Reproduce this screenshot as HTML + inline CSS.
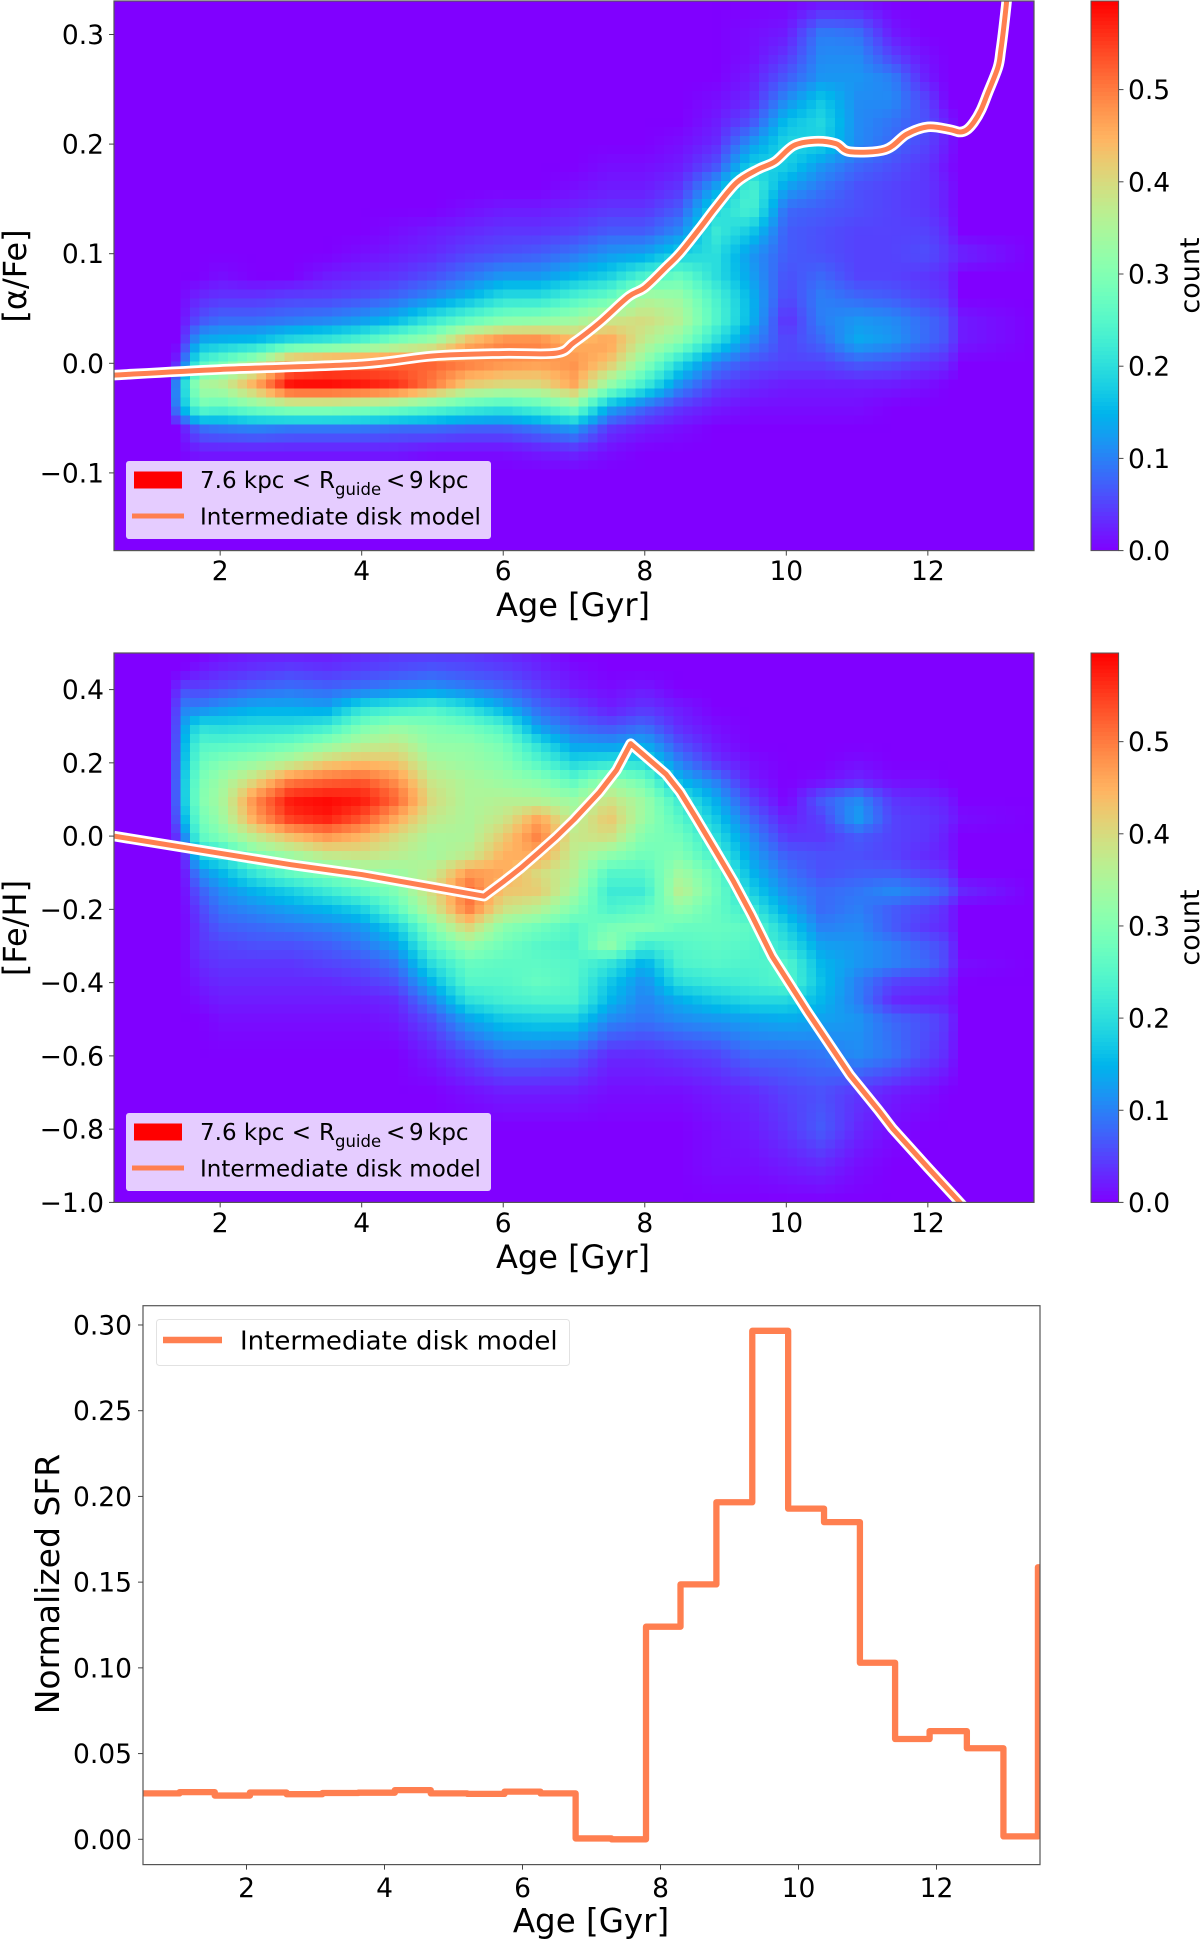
<!DOCTYPE html>
<html lang="en">
<head>
<meta charset="utf-8">
<title>Age relations of alpha and iron abundance with star formation history</title>
<style>
html,body{margin:0;padding:0;background:#fff;}
svg{display:block;}
text{font-family:"DejaVu Sans","Liberation Sans",sans-serif;fill:#000;}
.tick{font-size:26.5px;}
.axis{font-size:32px;}
.leg{font-size:23px;}
</style>
</head>
<body>
<svg id="figure" xmlns="http://www.w3.org/2000/svg" width="1200" height="1940" viewBox="0 0 1200 1940">
  <defs>
    <clipPath id="clip-alpha"><rect x="114" y="1" width="920" height="549.6"/></clipPath>
    <clipPath id="clip-feh"><rect x="114" y="653" width="920" height="549.4"/></clipPath>
    <clipPath id="clip-sfr"><rect x="143" y="1305.7" width="897" height="558.9"/></clipPath>
  </defs>
  <g id="alpha-heatmap"></g>
  <g id="feh-heatmap"></g>
  <g id="alpha-colorbar"></g>
  <g id="feh-colorbar"></g>
  <g id="model-lines"></g>
  <g id="axes"></g>

  <text class="axis" x="573" y="616" text-anchor="middle">Age [Gyr]</text>
  <text class="axis" transform="translate(26,276) rotate(-90)" text-anchor="middle">[α/Fe]</text>
  <text transform="translate(1199,275.5) rotate(-90)" text-anchor="middle" font-size="27">count</text>

  <text class="axis" x="573" y="1268" text-anchor="middle">Age [Gyr]</text>
  <text class="axis" transform="translate(26,928) rotate(-90)" text-anchor="middle">[Fe/H]</text>
  <text transform="translate(1199,927.5) rotate(-90)" text-anchor="middle" font-size="27">count</text>

  <text class="axis" x="591" y="1932" text-anchor="middle" font-size="32.5" style="font-size:32.5px">Age [Gyr]</text>
  <text class="axis" transform="translate(59,1584) rotate(-90)" text-anchor="middle" style="font-size:33px">Normalized SFR</text>

  <g>
    <rect x="126" y="461" width="365" height="78" rx="3" fill="#e5ccff"/>
    <rect x="134" y="471.5" width="48" height="17" fill="#ff0000"/>
    <line x1="132" y1="516" x2="184" y2="516" stroke="#ff7f50" stroke-width="5"/>
    <text class="leg" x="200" y="488">7.6 kpc &lt; <tspan x="319">R</tspan><tspan x="335" y="495" font-size="16.5">guide</tspan><tspan x="386" y="488">&lt;</tspan><tspan x="409">9</tspan><tspan x="428">kpc</tspan></text>
    <text class="leg" x="200" y="524.5">Intermediate disk model</text>
  </g>
  <g>
    <rect x="126" y="1113" width="365" height="78" rx="3" fill="#e5ccff"/>
    <rect x="134" y="1123.5" width="48" height="17" fill="#ff0000"/>
    <line x1="132" y1="1168" x2="184" y2="1168" stroke="#ff7f50" stroke-width="5"/>
    <text class="leg" x="200" y="1140">7.6 kpc &lt; <tspan x="319">R</tspan><tspan x="335" y="1147" font-size="16.5">guide</tspan><tspan x="386" y="1140">&lt;</tspan><tspan x="409">9</tspan><tspan x="428">kpc</tspan></text>
    <text class="leg" x="200" y="1176.5">Intermediate disk model</text>
  </g>
  <g>
    <rect x="156.5" y="1319.5" width="413" height="46" rx="3" fill="#fff" stroke="#e2e2e2" stroke-width="1"/>
    <line x1="163" y1="1340" x2="222" y2="1340" stroke="#ff7f50" stroke-width="6.5"/>
    <text x="240" y="1349.5" font-size="26">Intermediate disk model</text>
  </g>
</svg>
<script>
// ---------- Shared data ----------
const ageTicks = [2, 4, 6, 8, 10, 12];
const alphaTicks = [0.3, 0.2, 0.1, 0.0, -0.1];
const fehTicks = [0.4, 0.2, 0.0, -0.2, -0.4, -0.6, -0.8, -1.0];
const sfrTicks = [0.30, 0.25, 0.20, 0.15, 0.10, 0.05, 0.00];
const colorbarTicks = [0.0, 0.1, 0.2, 0.3, 0.4, 0.5];

// ---------- [alpha/Fe] density: each profile is a column at one age, counts x 100, top to bottom ----------
const alphaAges = [0.5,1.25,1.4,1.7,2,2.5,3,3.5,4,4.5,5,5.5,6,6.5,7,7.5,8,8.5,9,9.5,10,10.5,11,11.5,12,12.3,12.45,13.5];
const alphaLevels = [0.33,0.30,0.28,0.26,0.24,0.22,0.20,0.18,0.16,0.14,0.12,0.10,0.08,0.06,0.04,0.02,0,-0.02,-0.04,-0.06,-0.08,-0.10,-0.17];
const alphaProfiles = [
[0,0,0,0,0,0,0,0,0,0,0,0,0,0,0,0,0,0,0,0,0,0,0],
[0,0,0,0,0,0,0,0,0,0,0,0,0,0,0,0,0,0,0,0,0,0,0],
[0,0,0,0,0,0,0,0,0,0,0,0,0,0,0,0,3,13,12,0,0,0,0],
[0,0,0,0,0,0,0,0,0,0,0,0,0,3,6,14,24,35,28,8,2,0,0],
[0,0,0,0,0,0,0,0,0,0,0,0,1,4,8,15,28,36,26,9,2,0,0],
[0,0,0,0,0,0,0,0,0,0,0,0,0,4,8,16,36,46,30,10,2,0,0],
[0,0,0,0,0,0,0,0,0,0,0,0,0,5,9,20,50,59,33,9,2,0,0],
[0,0,0,0,0,0,0,0,0,0,0,0,2,5,10,22,52,59,33,9,2,0,0],
[0,0,0,0,0,0,0,0,0,0,0,1,3,6,12,25,52,58,32,9,2,0,0],
[0,0,0,0,0,0,0,0,0,0,1,2,4,8,15,30,52,56,30,8,2,0,0],
[0,0,0,0,0,0,0,0,0,0,2,3,6,11,21,34,52,50,27,8,1,0,0],
[0,0,0,0,0,0,0,0,0,1,3,5,9,15,26,45,50,42,24,7,1,0,0],
[0,0,0,0,0,0,0,0,0,2,4,6,12,20,30,50,48,40,22,7,1,0,0],
[0,0,0,0,0,0,0,0,0,2,4,7,12,20,31,50,47,40,25,9,2,0,0],
[0,0,0,0,0,0,0,0,1,3,5,9,15,24,33,45,48,46,30,12,3,0,0],
[0,0,0,0,0,0,0,1,2,4,7,12,18,27,38,47,43,32,14,4,1,0,0],
[0,0,0,0,0,0,0,1,2,4,7,13,24,35,40,37,31,22,8,2,0,0,0],
[0,0,0,0,0,0,1,2,4,7,11,18,27,33,36,31,19,11,4,1,0,0,0],
[0,0,0,0,1,2,3,6,13,19,22,20,20,24,25,20,10,5,2,0,0,0,0],
[0,1,1,2,3,6,12,18,24,24,17,12,13,15,15,11,6,3,1,0,0,0,0],
[0,2,4,7,11,16,19,18,13,8,7,7,6,5,3,5,5,2,1,0,0,0,0],
[1,10,11,12,17,19,18,12,9,7,6,6,8,10,10,8,5,2,1,0,0,0,0],
[1,9,11,12,11,11,11,8,6,6,5,5,5,8,12,14,7,2,1,0,0,0,0],
[0,2,5,10,11,9,8,6,5,5,5,5,5,7,11,12,6,2,0,0,0,0,0],
[0,0,1,2,5,6,5,4,4,4,5,6,4,5,8,8,4,1,0,0,0,0,0],
[0,0,0,0,0,2,2,1,2,2,3,4,3,4,6,6,3,0,0,0,0,0,0],
[0,0,0,0,0,0,0,0,0,0,0,3,0,0,2,2,0,0,0,0,0,0,0],
[0,0,0,0,0,0,0,0,0,0,0,0,0,0,0,0,0,0,0,0,0,0,0]
];

// ---------- [Fe/H] density: each profile is a column at one age, counts x 100, top to bottom ----------
const fehAges = [0.5,1.3,1.45,1.7,2,2.5,3,3.5,4,4.5,5,5.5,6,6.5,7,7.5,8,8.5,9,9.5,10,10.5,11,11.5,12,12.3,12.45,13.5];
const fehLevels = [0.5,0.45,0.4,0.35,0.3,0.25,0.2,0.15,0.1,0.05,0,-0.05,-0.1,-0.15,-0.2,-0.25,-0.3,-0.35,-0.4,-0.45,-0.5,-0.6,-0.7,-0.8,-0.9,-1.0];
const fehProfiles = [
[0,0,0,0,0,0,0,0,0,0,0,0,0,0,0,0,0,0,0,0,0,0,0,0,0,0],
[0,0,0,0,0,0,0,0,0,0,0,0,0,0,0,0,0,0,0,0,0,0,0,0,0,0],
[0,0,6,10,12,13,14,15,15,13,8,0,0,0,0,0,0,0,0,0,0,0,0,0,0,0],
[0,2,5,10,20,25,27,29,30,28,26,19,11,7,5,4,4,3,2,1,0,0,0,0,0,0],
[1,3,6,12,19,25,30,33,34,33,30,21,15,11,9,7,5,4,3,2,1,0,0,0,0,0],
[2,4,8,14,20,26,33,41,49,47,38,30,22,15,11,8,6,4,3,2,1,0,0,0,0,0],
[2,5,9,14,20,28,37,50,58,56,44,34,27,18,13,9,6,4,3,2,1,0,0,0,0,0],
[2,4,8,13,22,32,42,52,59,58,48,38,30,22,15,10,7,5,3,2,1,0,0,0,0,0],
[3,5,9,20,29,36,44,53,58,54,45,39,33,26,18,12,9,6,4,2,1,0,0,0,0,0],
[4,6,11,22,32,38,43,48,52,46,40,37,33,30,26,18,13,9,6,3,2,0,0,0,0,0],
[4,7,12,24,30,32,35,38,40,38,35,34,37,40,37,30,25,20,15,10,6,2,0,0,0,0],
[4,6,10,20,28,32,33,35,35,35,35,37,47,52,50,41,32,27,25,20,13,5,1,0,0,0],
[3,5,8,14,24,29,31,33,36,38,42,45,46,43,39,31,28,26,25,23,17,8,2,0,0,0],
[2,3,5,8,12,20,25,31,35,46,50,46,40,42,36,28,25,26,27,24,18,8,2,0,0,0],
[0,1,2,5,8,13,19,26,33,36,38,37,36,34,30,25,24,25,25,24,18,7,2,0,0,0],
[0,0,1,2,6,12,21,33,39,43,40,32,25,22,24,29,32,21,17,15,11,3,1,0,0,0],
[0,0,2,4,8,14,20,28,33,33,30,28,25,22,26,30,22,14,11,10,9,3,1,0,0,0],
[0,0,0,2,3,6,10,15,22,25,28,30,34,37,32,27,25,24,20,14,11,4,1,0,0,0],
[0,0,0,0,1,2,4,10,14,17,20,23,27,28,27,27,26,25,22,17,12,5,2,1,1,0],
[0,0,0,0,0,0,1,2,5,8,11,13,15,18,22,26,25,24,23,19,13,8,3,2,1,0],
[0,0,0,0,0,0,0,0,0,2,4,7,9,11,14,18,21,25,25,19,14,8,5,4,2,0],
[0,0,0,0,0,0,0,1,7,5,4,6,6,8,8,10,13,15,16,15,13,9,6,7,3,0],
[0,0,0,0,0,0,1,3,11,13,7,6,7,9,10,11,12,12,10,10,12,11,4,3,1,0],
[0,0,0,0,0,0,0,1,4,5,5,5,7,11,7,7,10,10,5,3,8,9,2,1,0,0],
[0,0,0,0,0,0,0,1,3,4,4,3,5,9,5,4,7,8,4,2,6,5,1,0,0,0],
[0,0,0,0,0,0,0,0,2,3,2,2,4,7,3,3,5,5,3,2,4,3,0,0,0,0],
[0,0,0,0,0,0,0,0,0,1,0,0,0,3,0,0,0,1,0,0,0,0,0,0,0,0],
[0,0,0,0,0,0,0,0,0,0,0,0,0,0,0,0,0,0,0,0,0,0,0,0,0,0]
];

// ---------- Model tracks ----------
const alphaModelAges = [0.5,2,4,5,6,6.75,7,7.36,7.77,8,8.3,8.5,8.8,9,9.3,9.6,9.84,10.1,10.4,10.7,10.9,11.4,11.7,12,12.3,12.45,12.55,12.65,12.75,12.85,12.99,13.03,13.07,13.12,13.16];
const alphaModelValues = [-0.0108,-0.0056,-0.0007,0.0067,0.009,0.0093,0.019,0.037,0.0608,0.069,0.0877,0.1007,0.125,0.142,0.165,0.177,0.184,0.1985,0.2026,0.2004,0.193,0.195,0.209,0.2157,0.2134,0.211,0.213,0.22,0.231,0.247,0.27,0.285,0.305,0.335,0.37];
const fehModelAges = [0.5,2,3,4,5.73,6,6.25,6.5,6.75,7,7.36,7.6,7.8,8.3,8.5,8.7,9,9.25,9.5,9.8,10.3,10.9,11.3,11.5,12,12.5];
const fehModelValues = [0,-0.047,-0.078,-0.105,-0.164,-0.125,-0.087,-0.045,-0.002,0.045,0.12,0.18,0.2525,0.169,0.12,0.057,-0.04,-0.122,-0.212,-0.3285,-0.48,-0.6525,-0.7475,-0.798,-0.905,-1.01];

// ---------- Normalized SFR steps ----------
const sfrEdges = [0.5,1.03,1.54,2.05,2.58,3.1,3.62,4.15,4.67,5.2,5.74,6.26,6.77,7.29,7.79,8.29,8.81,9.33,9.85,10.37,10.89,11.4,11.9,12.44,12.97,13.47,13.6];
const sfrValues = [0.0268,0.0275,0.0255,0.0273,0.0263,0.027,0.0272,0.0287,0.0268,0.0265,0.0278,0.0268,0.0005,0,0.124,0.1487,0.1966,0.2966,0.1929,0.185,0.103,0.0585,0.0631,0.0531,0.0017,0.1587];

// ---------- Axis functions ----------
const NS = 'http://www.w3.org/2000/svg';
const colorMax = 0.596;
const xTop = a => 114 + (a - 0.5) * 920 / 13;
const xSfr = a => 143 + (a - 0.5) * 897 / 13;
const yAlpha = v => 363.3 - v * 1096;
const yFeh = v => 1202.4 - (v + 1) * 366.3;
const ySfr = v => 1839.3 - v * 1714.4;
const yBarA = v => 550.6 - v * 922;
const yBarB = v => 1202.4 - v * 921.5;

function make(tag, attrs, parent) {
  const el = document.createElementNS(NS, tag);
  for (const k in attrs) el.setAttribute(k, attrs[k]);
  parent.appendChild(el);
  return el;
}
function rainbow(v) {
  const t = Math.max(0, Math.min(1, v / colorMax));
  const r = Math.min(1, Math.abs(2 * t - 0.5));
  const g = Math.sin(Math.PI * t);
  const b = Math.cos(Math.PI * t / 2);
  return 'rgb(' + Math.round(r * 255) + ',' + Math.round(g * 255) + ',' + Math.round(b * 255) + ')';
}
function sample(ages, levels, profiles, age, level) {
  let i = 0;
  while (i < ages.length - 2 && age > ages[i + 1]) i++;
  let j = 0;
  while (j < levels.length - 2 && level < levels[j + 1]) j++;
  const u = Math.max(0, Math.min(1, (age - ages[i]) / (ages[i + 1] - ages[i])));
  const w = Math.max(0, Math.min(1, (levels[j] - level) / (levels[j] - levels[j + 1])));
  const top = profiles[i][j] * (1 - u) + profiles[i + 1][j] * u;
  const bottom = profiles[i][j + 1] * (1 - u) + profiles[i + 1][j + 1] * u;
  return (top * (1 - w) + bottom * w) / 100;
}
function drawHeatmap(group, ages, levels, profiles, yTop, yBottom, loLevel, hiLevel) {
  const cols = 97;
  const rows = 61;
  const cw = 920 / cols;
  const ch = (yBottom - yTop) / rows;
  for (let c = 0; c < cols; c++) {
    for (let r = 0; r < rows; r++) {
      const age = 0.5 + (c + 0.5) * 13 / cols;
      const level = hiLevel - (r + 0.5) * (hiLevel - loLevel) / rows;
      const el = make('rect', {
        x: (114 + c * cw).toFixed(2),
        y: (yTop + r * ch).toFixed(2),
        width: (cw + 0.6).toFixed(2),
        height: (ch + 0.6).toFixed(2),
        fill: rainbow(sample(ages, levels, profiles, age, level)),
        'shape-rendering': 'crispEdges'
      }, group);
      
      
    }
  }
}
function drawColorbar(group, yFn, yTop, yBottom) {
  const steps = 140;
  for (let s = 0; s < steps; s++) {
    const v = colorMax * (s + 0.5) / steps;
    const h = (yBottom - yTop) / steps;
    const el = make('rect', {
      x: 1091, y: (yBottom - (s + 1) * h).toFixed(2), width: 27.6, height: (h + 0.6).toFixed(2),
      fill: rainbow(v), 'shape-rendering': 'crispEdges'
    }, group);
    
    
  }
  const frame = make('rect', { x: 1091, y: yTop, width: 27.6, height: yBottom - yTop, fill: 'none', stroke: '#555', 'stroke-width': 1 }, group);
  
  
  colorbarTicks.forEach(v => {
    const y = yFn(v);
    const tick = make('line', { x1: 1118.6, x2: 1123.5, y1: y, y2: y, stroke: '#444', 'stroke-width': 1 }, group);
    
    
    const label = make('text', { x: 1128, y: y + 9.5, class: 'tick' }, group);
    label.textContent = v.toFixed(1);
    
    
  });
}
function linePath(xs, ys, xFn, yFn) {
  return xs.map((a, i) => (i ? 'L' : 'M') + xFn(a).toFixed(2) + ' ' + yFn(ys[i]).toFixed(2)).join(' ');
}
function smoothPath(xs, ys, xFn, yFn) {
  const pts = xs.map((a, i) => [xFn(a), yFn(ys[i])]);
  let d = 'M' + pts[0][0].toFixed(2) + ' ' + pts[0][1].toFixed(2);
  for (let i = 0; i < pts.length - 1; i++) {
    const p0 = pts[Math.max(0, i - 1)], p1 = pts[i], p2 = pts[i + 1], p3 = pts[Math.min(pts.length - 1, i + 2)];
    const c1x = p1[0] + (p2[0] - p0[0]) / 6, c1y = p1[1] + (p2[1] - p0[1]) / 6;
    const c2x = p2[0] - (p3[0] - p1[0]) / 6, c2y = p2[1] - (p3[1] - p1[1]) / 6;
    d += ' C' + c1x.toFixed(2) + ' ' + c1y.toFixed(2) + ' ' + c2x.toFixed(2) + ' ' + c2y.toFixed(2) + ' ' + p2[0].toFixed(2) + ' ' + p2[1].toFixed(2);
  }
  return d;
}
function drawTrack(group, d, clip) {
  const halo = make('path', { d: d, fill: 'none', stroke: '#fff', 'stroke-width': 10.5, 'stroke-linejoin': 'round', 'clip-path': 'url(#' + clip + ')' }, group);
  
  
  const core = make('path', { d: d, fill: 'none', stroke: '#ff7f50', 'stroke-width': 5, 'stroke-linejoin': 'round', 'clip-path': 'url(#' + clip + ')' }, group);
  
  
}
function drawAxes(group, box, xFn, yFn, yVals, decimals, xBase, labelRight, tickLeft) {
  const frame = make('rect', { x: box.x, y: box.y, width: box.w, height: box.h, fill: 'none', stroke: '#555', 'stroke-width': 1.2 }, group);
  
  
  const bottom = box.y + box.h;
  ageTicks.forEach(a => {
    const x = xFn(a);
    const tick = make('line', { x1: x, x2: x, y1: bottom, y2: bottom + 5, stroke: '#444', 'stroke-width': 1 }, group);
    
    
    const label = make('text', { x: x, y: xBase, 'text-anchor': 'middle', class: 'tick' }, group);
    label.textContent = String(a);
    
    
  });
  yVals.forEach(v => {
    const y = yFn(v);
    const tick = make('line', { x1: tickLeft, x2: box.x, y1: y, y2: y, stroke: '#444', 'stroke-width': 1 }, group);
    
    
    const label = make('text', { x: labelRight, y: y + 9.5, 'text-anchor': 'end', class: 'tick' }, group);
    label.textContent = (v < 0 ? '\u2212' : '') + Math.abs(v).toFixed(decimals);
    
    
  });
}

// ---------- Draw ----------
const gAlpha = document.getElementById('alpha-heatmap');
const gFeh = document.getElementById('feh-heatmap');
const gLines = document.getElementById('model-lines');
const gAxes = document.getElementById('axes');

drawHeatmap(gAlpha, alphaAges, alphaLevels, alphaProfiles, 1, 550.6, (363.3 - 550.6) / 1096, (363.3 - 1) / 1096);
drawHeatmap(gFeh, fehAges, fehLevels, fehProfiles, 653, 1202.4, -1, 0.5);
drawColorbar(document.getElementById('alpha-colorbar'), yBarA, 1, 550.6);
drawColorbar(document.getElementById('feh-colorbar'), yBarB, 653, 1202.4);

drawTrack(gLines, smoothPath(alphaModelAges, alphaModelValues, xTop, yAlpha), 'clip-alpha');
drawTrack(gLines, linePath(fehModelAges, fehModelValues, xTop, yFeh), 'clip-feh');

const sfrX = [];
const sfrY = [];
sfrValues.forEach((v, i) => {
  sfrX.push(sfrEdges[i], sfrEdges[i + 1]);
  sfrY.push(v, v);
});
const sfrLine = make('path', { d: linePath(sfrX, sfrY, xSfr, ySfr), fill: 'none', stroke: '#ff7f50', 'stroke-width': 6.3, 'stroke-linejoin': 'round', 'clip-path': 'url(#clip-sfr)' }, gLines);



drawAxes(gAxes, { x: 114, y: 1, w: 920, h: 549.6 }, xTop, yAlpha, alphaTicks, 1, 580, 104, 109);
drawAxes(gAxes, { x: 114, y: 653, w: 920, h: 549.4 }, xTop, yFeh, fehTicks, 1, 1232, 104, 109);
drawAxes(gAxes, { x: 143, y: 1305.7, w: 897, h: 558.9 }, xSfr, ySfr, sfrTicks, 2, 1897, 132, 138);
</script>
</body>
</html>
